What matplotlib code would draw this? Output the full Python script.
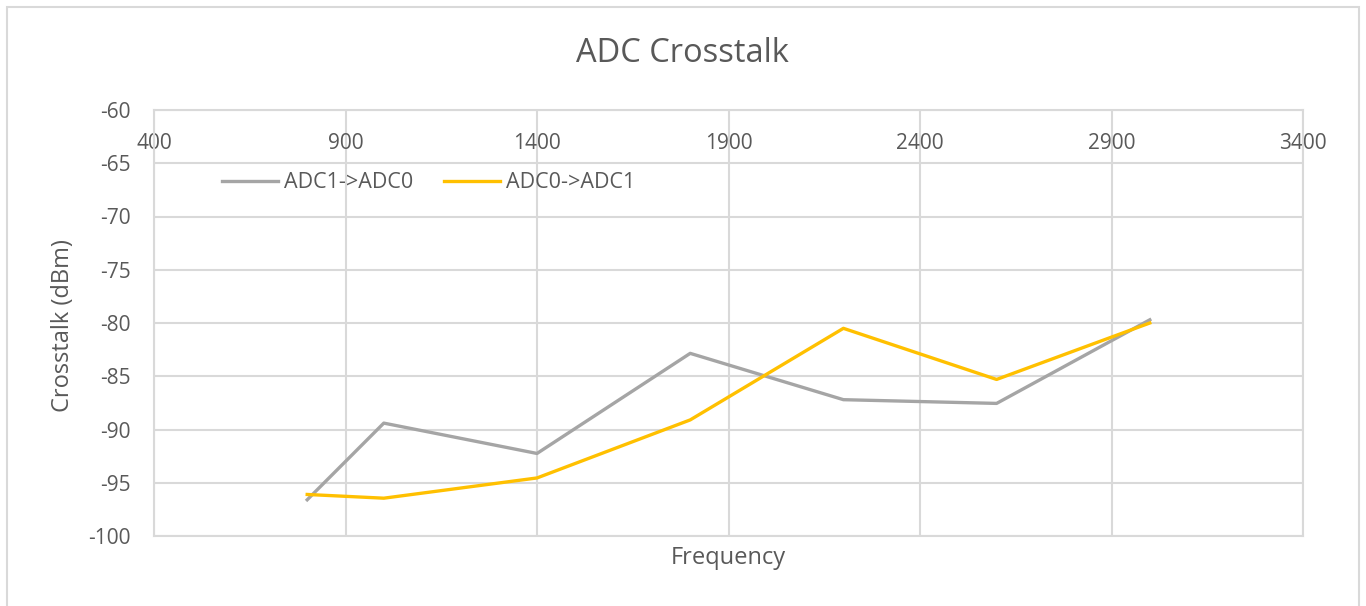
import matplotlib
matplotlib.use("Agg")
import matplotlib.pyplot as plt
from matplotlib.patches import Rectangle

plt.rcParams['font.family'] = ['Open Sans', 'DejaVu Sans']
plt.rcParams['axes.unicode_minus'] = False

frequency = [800, 1000, 1400, 1800, 2200, 2600, 3000]
adc1_to_adc0 = [-96.6, -89.4, -92.25, -82.85, -87.2, -87.55, -79.7]
adc0_to_adc1 = [-96.1, -96.45, -94.55, -89.1, -80.5, -85.3, -80.0]
x_ticks = [400, 900, 1400, 1900, 2400, 2900, 3400]
y_ticks = [-100, -95, -90, -85, -80, -75, -70, -65, -60]

TEXT = '#595959'
GRID = '#D9D9D9'
W, H = 1366, 606

fig = plt.figure(figsize=(W / 100, H / 100), dpi=100)
fig.patch.set_facecolor('white')

# outer chart border
fig.add_artist(Rectangle((7 / W, -0.05), (1359 - 7) / W, 1.05 - 7 / H,
                         transform=fig.transFigure, fill=False,
                         edgecolor=GRID, linewidth=1.5))

ax = fig.add_axes([154 / W, 1 - 536 / H, (1303 - 154) / W, (536 - 110) / H])
ax.plot(frequency, adc1_to_adc0, color='#A5A5A5', lw=2.4, label='ADC1->ADC0',
        solid_joinstyle='round')
ax.plot(frequency, adc0_to_adc1, color='#FFC000', lw=2.4, label='ADC0->ADC1',
        solid_joinstyle='round')

ax.set_xlim(400, 3400)
ax.set_ylim(-100, -60)
ax.set_xticks(x_ticks)
ax.set_yticks(y_ticks)
ax.grid(True, color=GRID, lw=1.5)
ax.set_axisbelow(True)
for s in ax.spines.values():
    s.set_color(GRID)
    s.set_linewidth(1.5)

ax.xaxis.tick_top()
ax.tick_params(axis='x', length=0, pad=-32, labelsize=15, labelcolor=TEXT)
ax.tick_params(axis='y', length=0, pad=17, labelsize=15, labelcolor=TEXT)

fig.text(682 / W, 1 - 53 / H, 'ADC Crosstalk', ha='center', va='center',
         fontsize=23.5, color=TEXT)
fig.text(63 / W, 1 - 326 / H, 'Crosstalk (dBm)', ha='center', va='center',
         rotation=90, fontsize=17, color=TEXT)
fig.text(728 / W, 1 - 558 / H, 'Frequency', ha='center', va='center',
         fontsize=17, color=TEXT)

ax.legend(loc='center left', bbox_to_anchor=(203 / W, 1 - 183 / H),
          bbox_transform=fig.transFigure, ncol=2, frameon=False,
          fontsize=15.5, labelcolor=TEXT, handlelength=2.6,
          handletextpad=0.25, columnspacing=1.45)

fig.savefig('out.png', dpi=100, facecolor='white')
